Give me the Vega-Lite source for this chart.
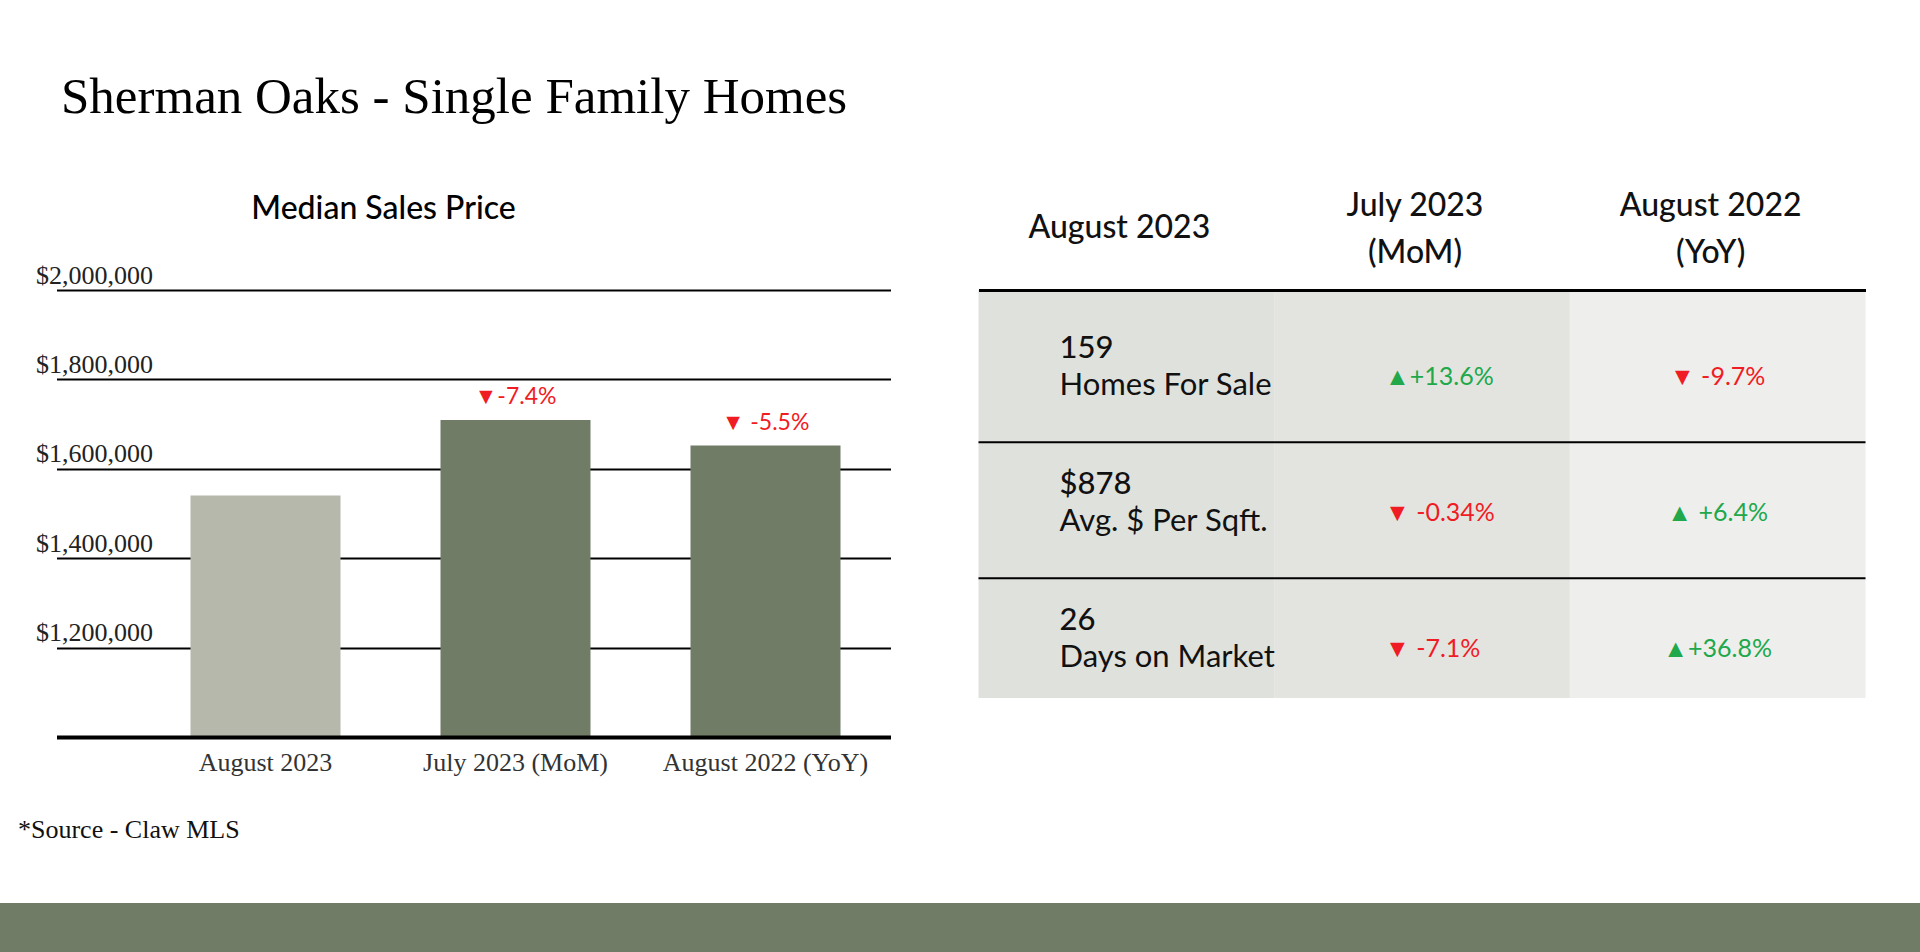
{
  "$schema": "https://vega.github.io/schema/vega-lite/v6.json",
  "background": "white",
  "padding": {"top": 72, "left": 0, "right": 0, "bottom": 0},
  "config": {"view": {"stroke": null}, "font": "Lato"},
  "datasets": {
    "header": [
      {"column": "August 2023", "line": "single", "header": "August 2023"},
      {"column": "July 2023 (MoM)", "line": "first", "header": "July 2023"},
      {"column": "July 2023 (MoM)", "line": "second", "header": "(MoM)"},
      {"column": "August 2022 (YoY)", "line": "first", "header": "August 2022"},
      {"column": "August 2022 (YoY)", "line": "second", "header": "(YoY)"}
    ]
  },
  "title": {
    "text": "Sherman Oaks - Single Family Homes",
    "anchor": "start",
    "dx": 61,
    "font": "Liberation Serif",
    "fontSize": 51,
    "fontWeight": "normal",
    "color": "#000000",
    "offset": 66
  },
  "center": true,
  "spacing": 42,
  "vconcat": [
    {
      "bounds": "flush",
      "spacing": 88,
      "hconcat": [
        {
          "width": 750,
          "height": 447,
          "title": {
            "text": "Median Sales Price",
            "anchor": "middle",
            "dx": -132,
            "font": "Lato",
            "fontSize": 32,
            "fontWeight": 500,
            "color": "#000000",
            "baseline": "alphabetic",
            "offset": 11
          },
          "data": {
            "values": [
              {"period": "August 2023", "price": 1540000, "change": "", "kind": "current"},
              {"period": "July 2023 (MoM)", "price": 1709000, "change": "▼-7.4%", "kind": "prior"},
              {"period": "August 2022 (YoY)", "price": 1652000, "change": "▼ -5.5%", "kind": "prior"}
            ]
          },
          "encoding": {
            "x": {
              "field": "period",
              "type": "nominal",
              "sort": null,
              "scale": {"paddingInner": 0.4, "paddingOuter": 0.2},
              "axis": {
                "title": null,
                "labelAngle": 0,
                "ticks": false,
                "domain": true,
                "domainColor": "#000000",
                "domainWidth": 4,
                "labelFont": "Liberation Serif",
                "labelFontSize": 26,
                "labelColor": "#333333",
                "labelPadding": 12,
                "labelBaseline": "top",
                "labelLimit": 0,
                "grid": false,
                "zindex": 1
              }
            },
            "y": {
              "field": "price",
              "type": "quantitative",
              "scale": {"domain": [1000000, 2000000], "nice": false, "zero": false},
              "axis": {
                "title": null,
                "values": [1000000, 1200000, 1400000, 1600000, 1800000, 2000000],
                "format": "$,.0f",
                "labelExpr": "datum.value == 1000000 ? '' : datum.label",
                "grid": true,
                "gridColor": "#000000",
                "gridWidth": 2,
                "domain": false,
                "ticks": true,
                "tickSize": 84,
                "tickColor": "#000000",
                "tickWidth": {"condition": {"test": "datum.value == 1000000", "value": 4}, "value": 2},
                "labelAlign": "left",
                "labelBaseline": "alphabetic",
                "labelPadding": 21,
                "labelOffset": -7,
                "labelFlush": false,
                "labelOverlap": false,
                "labelFont": "Liberation Serif",
                "labelFontSize": 26,
                "labelColor": "#222222",
                "labelLimit": 0
              }
            }
          },
          "layer": [
            {
              "mark": {"type": "bar", "clip": true},
              "encoding": {
                "color": {
                  "field": "kind",
                  "type": "nominal",
                  "scale": {"domain": ["current", "prior"], "range": ["#b5b8aa", "#707c66"]},
                  "legend": null
                }
              }
            },
            {
              "mark": {"type": "text", "baseline": "alphabetic", "dy": -16, "font": "Lato", "fontSize": 23, "color": "#f01c24"},
              "encoding": {"text": {"field": "change"}}
            }
          ]
        },
        {
          "width": 887,
          "height": 408,
          "data": {
            "values": [
              {"metric": "Homes For Sale", "value": "159", "mom": "▲+13.6%", "yoy": "▼ -9.7%"},
              {"metric": "Avg. $ Per Sqft.", "value": "$878", "mom": "▼ -0.34%", "yoy": "▲ +6.4%"},
              {"metric": "Days on Market", "value": "26", "mom": "▼ -7.1%", "yoy": "▲+36.8%"}
            ]
          },
          "layer": [
            {
              "data": {
                "values": [
                  {"column": "August 2023"},
                  {"column": "July 2023 (MoM)"},
                  {"column": "August 2022 (YoY)"}
                ]
              },
              "mark": {"type": "rect"},
              "encoding": {
                "x": {
                  "field": "column",
                  "type": "nominal",
                  "sort": null,
                  "scale": {"domain": ["August 2023", "July 2023 (MoM)", "August 2022 (YoY)"], "paddingInner": 0, "paddingOuter": 0},
                  "axis": {
                    "orient": "top",
                    "title": null,
                    "labels": false,
                    "ticks": false,
                    "domain": true,
                    "domainColor": "#000000",
                    "domainWidth": 3,
                    "grid": false,
                    "zindex": 1
                  }
                },
                "fill": {
                  "field": "column",
                  "type": "nominal",
                  "sort": null,
                  "scale": {"domain": ["August 2023", "July 2023 (MoM)", "August 2022 (YoY)"], "range": ["#dfe1dc", "#e3e4e0", "#eeeeec"]},
                  "legend": null
                }
              }
            },
            {
              "transform": [{"filter": "datum.metric != 'Homes For Sale'"}],
              "mark": {"type": "rule", "color": "#000000", "strokeWidth": 2},
              "encoding": {
                "y": {"field": "metric", "type": "nominal", "sort": null, "bandPosition": 0.12,
                  "scale": {"domain": ["Homes For Sale", "Avg. $ Per Sqft.", "Days on Market"], "paddingInner": 0, "paddingOuter": 0},
                  "axis": null}
              }
            },
            {
              "data": {"name": "header"},
              "transform": [{"filter": "datum.line == 'single'"}],
              "mark": {"type": "text", "align": "center", "baseline": "alphabetic", "dx": -7, "font": "Lato", "fontSize": 32, "fontWeight": 500, "color": "#111111"},
              "encoding": {
                "x": {"field": "column", "type": "nominal", "sort": null},
                "y": {"datum": "Homes For Sale", "type": "nominal", "bandPosition": -0.382, "axis": null},
                "text": {"field": "header"}
              }
            },
            {
              "data": {"name": "header"},
              "transform": [{"filter": "datum.line == 'first'"}],
              "mark": {"type": "text", "align": "center", "baseline": "alphabetic", "dx": -7, "font": "Lato", "fontSize": 32, "fontWeight": 500, "color": "#111111"},
              "encoding": {
                "x": {"field": "column", "type": "nominal", "sort": null},
                "y": {"datum": "Homes For Sale", "type": "nominal", "bandPosition": -0.544, "axis": null},
                "text": {"field": "header"}
              }
            },
            {
              "data": {"name": "header"},
              "transform": [{"filter": "datum.line == 'second'"}],
              "mark": {"type": "text", "align": "center", "baseline": "alphabetic", "dx": -7, "font": "Lato", "fontSize": 32, "fontWeight": 500, "color": "#111111"},
              "encoding": {
                "x": {"field": "column", "type": "nominal", "sort": null},
                "y": {"datum": "Homes For Sale", "type": "nominal", "bandPosition": -0.199, "axis": null},
                "text": {"field": "header"}
              }
            },
            {
              "mark": {"type": "text", "align": "left", "baseline": "alphabetic", "font": "Lato", "fontSize": 31, "fontWeight": 500, "color": "#111111"},
              "encoding": {
                "x": {"datum": "August 2023", "type": "nominal", "bandPosition": 0.274},
                "y": {"field": "metric", "type": "nominal", "sort": null, "axis": null},
                "text": {"field": "value"}
              }
            },
            {
              "mark": {"type": "text", "align": "left", "baseline": "alphabetic", "dy": 37, "font": "Lato", "fontSize": 31, "color": "#111111"},
              "encoding": {
                "x": {"datum": "August 2023", "type": "nominal", "bandPosition": 0.274},
                "y": {"field": "metric", "type": "nominal", "sort": null, "axis": null},
                "text": {"field": "metric"}
              }
            },
            {
              "mark": {"type": "text", "align": "left", "baseline": "alphabetic", "dy": 27, "font": "Lato", "fontSize": 25},
              "encoding": {
                "x": {"datum": "July 2023 (MoM)", "type": "nominal", "bandPosition": 0.375},
                "y": {"field": "metric", "type": "nominal", "sort": null, "axis": null},
                "text": {"field": "mom"},
                "color": {"condition": {"test": "indexof(datum.mom, '▲') >= 0", "value": "#20a84a"}, "value": "#f01c24"}
              }
            },
            {
              "mark": {"type": "text", "align": "center", "baseline": "alphabetic", "dy": 27, "font": "Lato", "fontSize": 25},
              "encoding": {
                "x": {"datum": "August 2022 (YoY)", "type": "nominal"},
                "y": {"field": "metric", "type": "nominal", "sort": null, "axis": null},
                "text": {"field": "yoy"},
                "color": {"condition": {"test": "indexof(datum.yoy, '▲') >= 0", "value": "#20a84a"}, "value": "#f01c24"}
              }
            }
          ]
        }
      ]
    },
    {
      "width": 2007,
      "height": 50,
      "title": {
        "text": "*Source - Claw MLS",
        "anchor": "start",
        "dx": 18,
        "font": "Liberation Serif",
        "fontSize": 26,
        "fontWeight": "normal",
        "color": "#111111",
        "baseline": "alphabetic",
        "offset": 39
      },
      "data": {"values": [{"section": "footer band"}]},
      "mark": {"type": "rect", "color": "#707c66"},
      "encoding": {}
    }
  ]
}
